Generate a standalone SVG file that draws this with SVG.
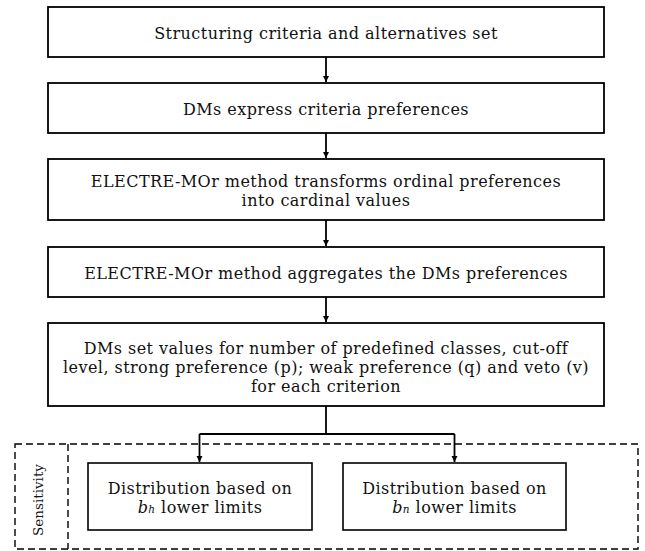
<svg xmlns="http://www.w3.org/2000/svg" width="645" height="551" viewBox="0 0 645 551">
<style>
.box{fill:#fff;stroke:#000;stroke-width:1.8}
.dbox{fill:#fff;stroke:#000;stroke-width:1.6}
.t{font-family:"DejaVu Serif","Liberation Serif",serif;font-size:16px;letter-spacing:0.45px;fill:#111;text-anchor:middle}
.dash{fill:none;stroke:#000;stroke-width:1.4;stroke-dasharray:7 4}
.c{fill:none;stroke:#000;stroke-width:1.8}
</style>
<defs>
<marker id="ah" markerWidth="8" markerHeight="8" refX="6" refY="3" orient="auto" markerUnits="userSpaceOnUse">
<path d="M0,0 L6,3 L0,6 Z" fill="#000"/>
</marker>
</defs>
<rect width="645" height="551" fill="#fff"/>
<g id="sensitivity">
<rect class="dash" x="15" y="444" width="623" height="105"/>
<line class="dash" x1="68" y1="444" x2="68" y2="549"/>
<text class="t" style="font-size:13.5px;letter-spacing:0" transform="translate(43,500) rotate(-90)">Sensitivity</text>
</g>
<g id="n1">
<rect class="box" x="48" y="7" width="556" height="50"/>
<text class="t" x="326" y="38.5">Structuring criteria and alternatives set</text>
</g>
<g id="n2">
<rect class="box" x="48" y="83" width="556" height="50"/>
<text class="t" x="326" y="114.5">DMs express criteria preferences</text>
</g>
<g id="n3">
<rect class="box" x="48" y="159" width="556" height="61"/>
<text class="t" x="326" y="187">ELECTRE-MOr method transforms ordinal preferences</text>
<text class="t" x="326" y="206">into cardinal values</text>
</g>
<g id="n4">
<rect class="box" x="48" y="247" width="556" height="50"/>
<text class="t" x="326" y="278.5">ELECTRE-MOr method aggregates the DMs preferences</text>
</g>
<g id="n5">
<rect class="box" x="48" y="323" width="556" height="83"/>
<text class="t" x="326" y="354">DMs set values for number of predefined classes, cut-off</text>
<text class="t" x="326" y="373">level, strong preference (p); weak preference (q) and veto (v)</text>
<text class="t" x="326" y="392">for each criterion</text>
</g>
<g id="n6">
<rect class="dbox" x="88" y="463" width="224" height="67"/>
<text class="t" x="200" y="494">Distribution based on</text>
<text class="t" x="200" y="513"><tspan font-style="italic">b</tspan><tspan font-style="italic" font-size="10.5">h</tspan> lower limits</text>
</g>
<g id="n7">
<rect class="dbox" x="343" y="463" width="223" height="67"/>
<text class="t" x="454.5" y="494">Distribution based on</text>
<text class="t" x="454.5" y="513"><tspan font-style="italic">b</tspan><tspan font-style="italic" font-size="10.5">n</tspan> lower limits</text>
</g>
<g id="connectors">
<line class="c" x1="326" y1="57" x2="326" y2="82" marker-end="url(#ah)"/>
<line class="c" x1="326" y1="133" x2="326" y2="158" marker-end="url(#ah)"/>
<line class="c" x1="326" y1="220" x2="326" y2="246" marker-end="url(#ah)"/>
<line class="c" x1="326" y1="297" x2="326" y2="322" marker-end="url(#ah)"/>
<polyline class="c" points="326,406 326,434"/>
<line class="c" x1="199.5" y1="434" x2="454.5" y2="434"/>
<line class="c" x1="199.5" y1="434" x2="199.5" y2="462" marker-end="url(#ah)"/>
<line class="c" x1="454.5" y1="434" x2="454.5" y2="462" marker-end="url(#ah)"/>
</g>
</svg>
